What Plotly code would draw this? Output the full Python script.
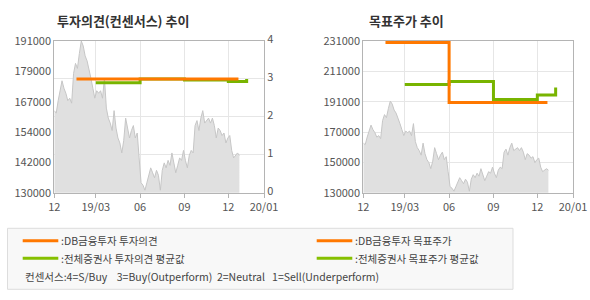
import plotly.graph_objects as go
import pandas as pd

# ---------------- data ----------------
price_dates = pd.date_range("2018-12-05", periods=97, freq="4D")
price_values = [
    163000, 162000, 167000, 171000, 175000, 172000, 170000, 167000, 168000, 166000,
    178000, 182000, 180000, 186000, 191000, 189000, 185000, 183000, 180000, 176000,
    172000, 168000, 171000, 170000, 171000, 168000, 176000, 164000, 160000, 158000,
    155000, 163000, 156000, 152000, 150000, 146000, 151000, 160000, 156000, 152000,
    155000, 157000, 152000, 154000, 144000, 134000, 133000, 131000, 134000, 137000,
    140000, 138000, 136000, 139000, 137000, 131000, 139000, 142000, 140000, 143000,
    141000, 146000, 142000, 138000, 141000, 144000, 143000, 147000, 143000, 140000,
    145000, 147000, 146000, 157000, 159000, 155000, 160000, 163000, 158000, 159000,
    160000, 158000, 160000, 157000, 152000, 156000, 155000, 153000, 154000, 150000,
    152000, 153000, 147000, 144000, 145000, 146000, 145000,
]

db_opinion_dates = ["2019-01-20", "2019-12-22"]
db_opinion_values = [3.0, 3.0]

avg_dates = ["2019-03-01", "2019-06-01", "2019-09-01", "2019-12-01", "2020-01-08"]
avg_opinion_values = [2.9, 3.0, 2.97, 2.93, 3.0]

db_target_dates = ["2019-01-20", "2019-06-01", "2019-12-22"]
db_target_values = [230000, 190000, 190000]

avg_target_values = [202000, 204000, 192000, 195000, 200000]

x_tick_dates = ["2018-12-05", "2019-03-01", "2019-06-01", "2019-09-01", "2019-12-01", "2020-02-13"]
x_tick_text = ["12", "19/03", "06", "09", "12", "20/01"]

left_price_ticks = [130000, 142200, 154400, 166600, 178800, 191000]
left_price_text = ["130000", "142000", "154000", "167000", "179000", "191000"]
opinion_ticks = [0, 1, 2, 3, 4]

right_price_ticks = [130000, 150200, 170400, 190600, 210800, 231000]
right_price_text = ["130000", "150000", "170000", "191000", "211000", "231000"]

# ---------------- style ----------------
W, H = 590, 300
ORANGE = "#ff7800"
GREEN = "#78b400"
AREA_FILL = "#e0e0e0"
AREA_LINE = "#c6c6c6"
GRID = "#e6e6e6"
AXIS = "#b4b4b4"
TXT = "#555555"
FONT = "Noto Sans CJK KR"

def px_x(p):
    return p / W

def px_y(p):
    return 1 - p / H

fig = go.Figure()

# left chart
fig.add_trace(go.Scatter(x=price_dates, y=price_values, xaxis="x", yaxis="y",
                         mode="lines", line=dict(color=AREA_LINE, width=1),
                         fill="tozeroy", fillcolor=AREA_FILL, hoverinfo="skip"))
fig.add_trace(go.Scatter(x=avg_dates, y=avg_opinion_values, xaxis="x", yaxis="y2",
                         mode="lines", line=dict(color=GREEN, width=3, shape="hv")))
fig.add_trace(go.Scatter(x=db_opinion_dates, y=db_opinion_values, xaxis="x", yaxis="y2",
                         mode="lines", line=dict(color=ORANGE, width=3, shape="hv")))

# right chart
fig.add_trace(go.Scatter(x=price_dates, y=price_values, xaxis="x2", yaxis="y3",
                         mode="lines", line=dict(color=AREA_LINE, width=1),
                         fill="tozeroy", fillcolor=AREA_FILL, hoverinfo="skip"))
fig.add_trace(go.Scatter(x=avg_dates, y=avg_target_values, xaxis="x2", yaxis="y3",
                         mode="lines", line=dict(color=GREEN, width=3, shape="hv")))
fig.add_trace(go.Scatter(x=db_target_dates, y=db_target_values, xaxis="x2", yaxis="y3",
                         mode="lines", line=dict(color=ORANGE, width=3, shape="hv")))

y_dom = [px_y(192.7), px_y(41)]
tickfont = dict(family=FONT, size=11, color=TXT)

xcommon = dict(type="date", range=["2018-12-05", "2020-02-13"], tickvals=x_tick_dates,
               ticktext=x_tick_text, showgrid=True, gridcolor=GRID, gridwidth=1,
               showline=True, linecolor=AXIS, linewidth=1, mirror=True,
               ticks="outside", ticklen=4, tickcolor=AXIS, tickfont=tickfont,
               zeroline=False, fixedrange=True, automargin=False)

fig.update_layout(
    width=W, height=H,
    margin=dict(l=0, r=0, t=0, b=0),
    paper_bgcolor="white", plot_bgcolor="white",
    showlegend=False,
    font=dict(family=FONT, color=TXT),
    xaxis=dict(domain=[px_x(54.3), px_x(264)], anchor="y", **xcommon),
    yaxis=dict(domain=y_dom, range=[130000, 191000], tickvals=left_price_ticks,
               ticktext=left_price_text, showgrid=False, showline=True, linecolor=AXIS,
               mirror=True, tickfont=tickfont, zeroline=False, anchor="x",
               automargin=False),
    yaxis2=dict(overlaying="y", side="right", anchor="x", range=[0, 4],
                tickvals=opinion_ticks, showgrid=True, gridcolor=GRID,
                showline=True, linecolor=AXIS, tickfont=tickfont, zeroline=False,
                automargin=False, ticklabelshift=-2),
    xaxis2=dict(domain=[px_x(363.3), px_x(573)], anchor="y3", **xcommon),
    yaxis3=dict(domain=y_dom, range=[130000, 231000], tickvals=right_price_ticks,
                ticktext=right_price_text, showgrid=True, gridcolor=GRID,
                showline=True, linecolor=AXIS, mirror=True, tickfont=tickfont,
                zeroline=False, anchor="x2", automargin=False),
)

annotations = [
    dict(text="<b>투자의견(컨센서스) 추이</b>", x=px_x(55), y=px_y(20.5), xanchor="left",
         yanchor="middle", font=dict(family=FONT, size=13, color="#333333")),
    dict(text="<b>목표주가 추이</b>", x=px_x(366.5), y=px_y(20.5), xanchor="left",
         yanchor="middle", font=dict(family=FONT, size=13, color="#333333")),
]

legend_font = dict(family=FONT, size=10.5, color="#444444")
legend_items = [
    (22.7, 240.7, ORANGE, ":DB금융투자 투자의견"),
    (22.7, 258.3, "#86c000", ":전체증권사 투자의견 평균값"),
    (316.7, 240.7, ORANGE, ":DB금융투자 목표주가"),
    (316.7, 258.3, "#86c000", ":전체증권사 목표주가 평균값"),
]
shapes = [
    dict(type="rect", xref="paper", yref="paper", x0=px_x(7.5), x1=px_x(513),
         y0=px_y(289.3), y1=px_y(228.3), fillcolor="#f8f8f8",
         line=dict(color="#dddddd", width=1), layer="below"),
]
for lx, ly, col, label in legend_items:
    shapes.append(dict(type="line", xref="paper", yref="paper", x0=px_x(lx), x1=px_x(lx + 35.6),
                       y0=px_y(ly), y1=px_y(ly), line=dict(color=col, width=3)))
    annotations.append(dict(text=label, x=px_x(lx + 36.5), y=px_y(ly), xanchor="left",
                            yanchor="middle", font=legend_font))
annotations.append(dict(
    text="컨센서스:4=S/Buy&nbsp;&nbsp;&nbsp;&nbsp;3=Buy(Outperform)&nbsp;&nbsp;2=Neutral&nbsp;&nbsp;&nbsp;1=Sell(Underperform)",
    x=px_x(22.5), y=px_y(276.7), xanchor="left", yanchor="middle", font=legend_font))

for a in annotations:
    a.update(xref="paper", yref="paper", showarrow=False)

fig.update_layout(annotations=annotations, shapes=shapes)

fig.write_html("out.html", config={"displayModeBar": False})
